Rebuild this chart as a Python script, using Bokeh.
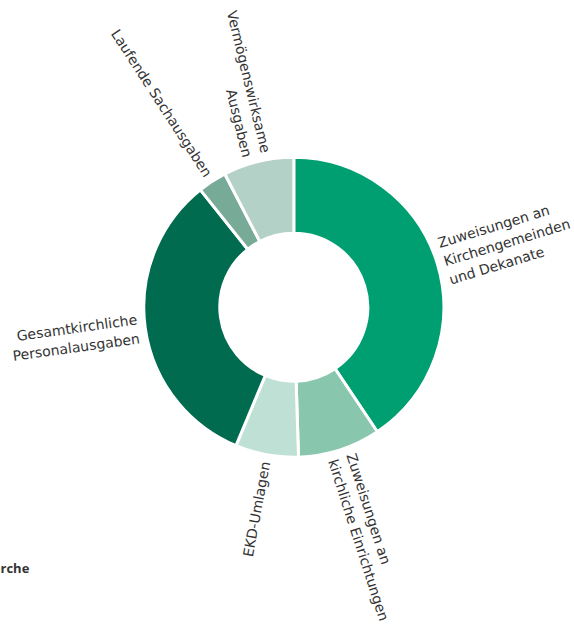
import math
from bokeh.plotting import figure
from bokeh.models import Range1d, ColumnDataSource
from bokeh.core.properties import value
from bokeh.embed import file_html
from bokeh.resources import INLINE

# Data (shares in percent)
categories = [
    "Zuweisungen an\nKirchengemeinden\nund Dekanate",
    "Zuweisungen an\nkirchliche Einrichtungen",
    "EKD-Umlagen",
    "Gesamtkirchliche\nPersonalausgaben",
    "Laufende Sachausgaben",
    "Vermögenswirksame\nAusgaben",
]
shares = [40.6, 8.9, 6.8, 33.0, 3.1, 7.6]
colors = ["#009F72", "#88C6AE", "#BFE0D4", "#006B4F", "#78AA98", "#B4D1C7"]
footer_text = "rche"

W, H = 572, 624
cx, cy = 293.3, H - 306.7
r_out, r_in = 150, 74
r_lab = 157

total = sum(shares)
starts, ends, lx, ly, la, align = [], [], [], [], [], []
cum = 0.0
for s in shares:
    a0 = math.pi / 2 - 2 * math.pi * cum / total
    cum += s
    a1 = math.pi / 2 - 2 * math.pi * cum / total
    starts.append(a0)
    ends.append(a1)
    mid = (a0 + a1) / 2
    lx.append(cx + r_lab * math.cos(mid))
    ly.append(cy + r_lab * math.sin(mid))
    if math.cos(mid) >= 0:
        la.append(mid)
        align.append("left")
    else:
        la.append(mid + math.pi)
        align.append("right")

src = ColumnDataSource(dict(start=starts, end=ends, color=colors,
                            x=lx, y=ly, angle=la, align=align, label=categories))

p = figure(width=W, height=H, output_backend="svg", toolbar_location=None,
           x_range=Range1d(0, W), y_range=Range1d(0, H), min_border=0)
p.axis.visible = False
p.grid.visible = False
p.outline_line_color = None
p.background_fill_color = "white"
p.border_fill_color = "white"

p.annular_wedge(x=cx, y=cy, inner_radius=r_in, outer_radius=r_out,
                start_angle="start", end_angle="end", direction="clock",
                fill_color="color", line_color="white", line_width=3, source=src)

p.text(x="x", y="y", text="label", angle="angle", text_align="align",
       text_baseline="middle", text_font=value("DejaVu Sans"),
       text_font_size="14px", text_color="#333333", text_line_height=1.2,
       source=src)

p.text(x=[0], y=[H - 567], text=[footer_text], text_align="left",
       text_baseline="middle", text_font=value("Open Sans"),
       text_font_size="13px", text_font_style="bold", text_color="#333333")

open("out.html", "w").write(file_html(p, INLINE))
